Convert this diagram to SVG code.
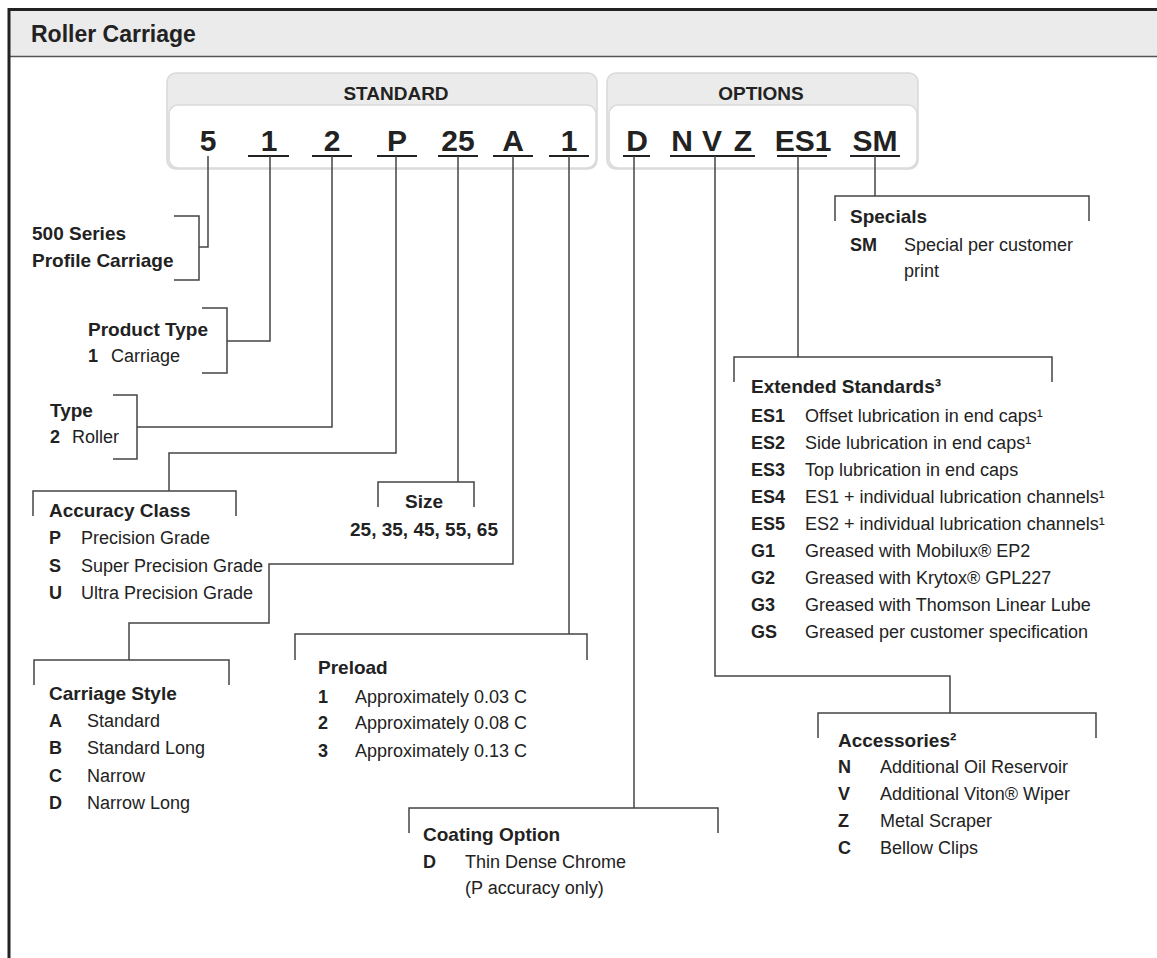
<svg xmlns="http://www.w3.org/2000/svg" width="1157" height="958" viewBox="0 0 1157 958">
<style>
text{font-family:"Liberation Sans",Arial,sans-serif;fill:#222}
.ttl{font-weight:bold;font-size:23px}
.hd{font-weight:bold;font-size:19px;text-anchor:middle}
.code{font-weight:bold;font-size:30px;text-anchor:middle}
.h{font-weight:bold;font-size:19px}
.b{font-weight:bold;font-size:18px}
.r{font-size:18px}
.ln{stroke:#444;stroke-width:1.5;fill:none}
.ul{stroke:#222;stroke-width:2;fill:none}
.box{fill:#ebebeb;stroke:#d9d9d9;stroke-width:1.5}
.inner{fill:#fff;stroke:#dadada;stroke-width:1.5}
</style>
<rect x="0" y="0" width="1157" height="958" fill="#fff"/>
<g id="frame">
<rect x="9" y="10" width="1148" height="46" fill="#ebebeb"/>
<line x1="9" y1="56.5" x2="1157" y2="56.5" stroke="#555" stroke-width="1.5"/>
<line x1="8" y1="9.5" x2="1157" y2="9.5" stroke="#222" stroke-width="3"/>
<line x1="9" y1="8" x2="9" y2="958" stroke="#222" stroke-width="3"/>
<text class="ttl" x="31" y="42">Roller Carriage</text>
</g>
<g id="standard-box">
<rect class="box" x="167" y="73" width="430" height="96" rx="9"/>
<rect class="inner" x="169" y="105" width="427" height="63" rx="9"/>
<text class="hd" x="396" y="100">STANDARD</text>
<text class="code" x="208" y="151">5</text>
<text class="code" x="269" y="151">1</text>
<text class="code" x="332" y="151">2</text>
<text class="code" x="397" y="151">P</text>
<text class="code" x="458" y="151">25</text>
<text class="code" x="513" y="151">A</text>
<text class="code" x="569" y="151">1</text>
<path class="ul" d="M248 156H289M312 156H352M377 156H417M438 156H478M493 156H533M549 156H589"/>
</g>
<g id="options-box">
<rect class="box" x="607" y="73" width="311" height="96" rx="9"/>
<rect class="inner" x="609" y="105" width="308" height="63" rx="9"/>
<text class="hd" x="761" y="100">OPTIONS</text>
<text class="code" x="637" y="151">D</text>
<text class="code" x="682" y="151">N</text>
<text class="code" x="712" y="151">V</text>
<text class="code" x="743" y="151">Z</text>
<text class="code" x="803" y="151">ES1</text>
<text class="code" x="875" y="151">SM</text>
<path class="ul" d="M623 156H650M670 156H755M777 156H827M850 156H900"/>
</g>
<g id="connectors">
<path class="ln" d="M208 156V247H199"/>
<path class="ln" d="M270 156V341H227"/>
<path class="ln" d="M332 156V427H137"/>
<path class="ln" d="M396 156V453H169V491"/>
<path class="ln" d="M458 156V482"/>
<path class="ln" d="M513 156V564H269V623H129V660"/>
<path class="ln" d="M569 156V634"/>
<path class="ln" d="M634 156V808"/>
<path class="ln" d="M715 156V676H950V713"/>
<path class="ln" d="M798 156V357"/>
<path class="ln" d="M875 156V196"/>
</g>
<g id="series">
<path class="ln" d="M174 216H199V280H174"/>
<text class="h" x="32" y="240">500 Series</text>
<text class="h" x="32" y="267">Profile Carriage</text>
</g>
<g id="product-type">
<path class="ln" d="M202 308H227V373H202"/>
<text class="h" x="88" y="336">Product Type</text>
<text class="b" x="88" y="362">1</text>
<text class="r" x="111" y="362">Carriage</text>
</g>
<g id="type">
<path class="ln" d="M113 395H137V459H113"/>
<text class="h" x="50" y="417">Type</text>
<text class="b" x="50" y="443">2</text>
<text class="r" x="72" y="443">Roller</text>
</g>
<g id="accuracy-class">
<path class="ln" d="M33 516V491H236V516"/>
<text class="h" x="49" y="517">Accuracy Class</text>
<text class="b" x="49" y="544">P</text><text class="r" x="81" y="544">Precision Grade</text>
<text class="b" x="49" y="572">S</text><text class="r" x="81" y="572">Super Precision Grade</text>
<text class="b" x="49" y="599">U</text><text class="r" x="81" y="599">Ultra Precision Grade</text>
</g>
<g id="size">
<path class="ln" d="M378 507V482H474V507"/>
<text class="h" x="424" y="508" text-anchor="middle">Size</text>
<text class="h" x="424" y="536" text-anchor="middle">25, 35, 45, 55, 65</text>
</g>
<g id="carriage-style">
<path class="ln" d="M34 685V660H229V685"/>
<text class="h" x="49" y="700">Carriage Style</text>
<text class="b" x="49" y="727">A</text><text class="r" x="87" y="727">Standard</text>
<text class="b" x="49" y="754">B</text><text class="r" x="87" y="754">Standard Long</text>
<text class="b" x="49" y="782">C</text><text class="r" x="87" y="782">Narrow</text>
<text class="b" x="49" y="809">D</text><text class="r" x="87" y="809">Narrow Long</text>
</g>
<g id="preload">
<path class="ln" d="M295 660V634H587V660"/>
<text class="h" x="318" y="674">Preload</text>
<text class="b" x="318" y="703">1</text><text class="r" x="355" y="703">Approximately 0.03 C</text>
<text class="b" x="318" y="729">2</text><text class="r" x="355" y="729">Approximately 0.08 C</text>
<text class="b" x="318" y="757">3</text><text class="r" x="355" y="757">Approximately 0.13 C</text>
</g>
<g id="coating-option">
<path class="ln" d="M409 833V808H718V833"/>
<text class="h" x="423" y="841">Coating Option</text>
<text class="b" x="423" y="868">D</text><text class="r" x="465" y="868">Thin Dense Chrome</text>
<text class="r" x="465" y="894">(P accuracy only)</text>
</g>
<g id="accessories">
<path class="ln" d="M818 738V713H1096V738"/>
<text class="h" x="838" y="747">Accessories²</text>
<text class="b" x="838" y="773">N</text><text class="r" x="880" y="773">Additional Oil Reservoir</text>
<text class="b" x="838" y="800">V</text><text class="r" x="880" y="800">Additional Viton® Wiper</text>
<text class="b" x="838" y="827">Z</text><text class="r" x="880" y="827">Metal Scraper</text>
<text class="b" x="838" y="854">C</text><text class="r" x="880" y="854">Bellow Clips</text>
</g>
<g id="extended-standards">
<path class="ln" d="M734 382V357H1052V382"/>
<text class="h" x="751" y="393">Extended Standards³</text>
<text class="b" x="751" y="422">ES1</text><text class="r" x="805" y="422">Offset lubrication in end caps¹</text>
<text class="b" x="751" y="449">ES2</text><text class="r" x="805" y="449">Side lubrication in end caps¹</text>
<text class="b" x="751" y="476">ES3</text><text class="r" x="805" y="476">Top lubrication in end caps</text>
<text class="b" x="751" y="503">ES4</text><text class="r" x="805" y="503">ES1 + individual lubrication channels¹</text>
<text class="b" x="751" y="530">ES5</text><text class="r" x="805" y="530">ES2 + individual lubrication channels¹</text>
<text class="b" x="751" y="557">G1</text><text class="r" x="805" y="557">Greased with Mobilux® EP2</text>
<text class="b" x="751" y="584">G2</text><text class="r" x="805" y="584">Greased with Krytox® GPL227</text>
<text class="b" x="751" y="611">G3</text><text class="r" x="805" y="611">Greased with Thomson Linear Lube</text>
<text class="b" x="751" y="638">GS</text><text class="r" x="805" y="638">Greased per customer specification</text>
</g>
<g id="specials">
<path class="ln" d="M835 221V196H1089V221"/>
<text class="h" x="850" y="223">Specials</text>
<text class="b" x="850" y="251">SM</text><text class="r" x="904" y="251">Special per customer</text>
<text class="r" x="904" y="277">print</text>
</g>
</svg>
